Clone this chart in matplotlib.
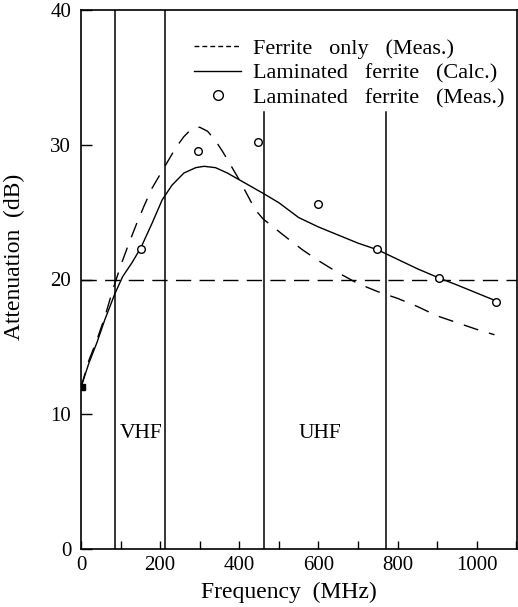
import matplotlib
matplotlib.use("Agg")
import matplotlib.pyplot as plt
from matplotlib.lines import Line2D

# ---- data ----
ferrite_x = [0, 20, 40, 60, 80, 100, 120, 140, 160, 180, 200, 220, 240, 260, 280, 300,
             320, 340, 360, 380, 400, 420, 440, 460, 490, 520, 560, 600, 650, 700, 750,
             800, 850, 900, 950, 1000, 1045]
ferrite_y = [12.0, 14.0, 15.5, 17.2, 19.2, 21.0, 22.6, 24.1, 25.5, 26.8, 27.8, 28.8, 29.8, 30.6, 31.2, 31.3,
             31.0, 30.3, 29.4, 28.4, 27.4, 26.3, 25.2, 24.5, 23.8, 23.1, 22.2, 21.4, 20.5, 19.7, 19.1,
             18.6, 18.0, 17.3, 16.8, 16.3, 15.9]

calc_x = [0, 20, 40, 60, 85, 105, 130, 152, 180, 205, 230, 260, 290, 311, 340, 370, 400,
          430, 460, 500, 550, 600, 650, 700, 750, 800, 850, 906, 950, 1000, 1050]
calc_y = [12.0, 13.8, 15.3, 17.0, 18.9, 20.2, 21.3, 22.4, 24.2, 25.9, 27.0, 27.9, 28.3, 28.4, 28.3, 27.9, 27.4,
          26.9, 26.4, 25.7, 24.6, 23.9, 23.3, 22.7, 22.2, 21.5, 20.8, 20.1, 19.6, 19.0, 18.4]

meas_x = [152, 296, 448, 600, 749, 904, 1050]
meas_y = [22.3, 29.5, 30.2, 25.6, 22.3, 20.1, 18.3]

start_x = [2]
start_y = [12.0]

band_full_x = [85, 213]      # lines spanning the whole height
band_part_x = [463, 770]     # lines ending below the legend
band_part_top = 32.4
ref_level = 20

band_labels = ["VHF", "UHF"]
band_label_x = [152, 603]
band_label_y = 8.6

legend_labels = ["Ferrite   only   (Meas.)", "Laminated   ferrite   (Calc.)", "Laminated   ferrite   (Meas.)"]
x_ticks = [0, 200, 400, 600, 800, 1000]
x_minor = [100, 300, 500, 700, 900, 1100]
y_ticks = [0, 10, 20, 30, 40]

# ---- style ----
plt.rcParams['font.family'] = ['Liberation Serif', 'DejaVu Serif']

fig = plt.figure(figsize=(5.18, 6.07), dpi=100)
ax = fig.add_axes([81/518, 58/607, 436/518, 539/607])

ax.set_xlim(0, 1102)
ax.set_ylim(0, 40)

# band lines
for bx in band_full_x:
    ax.axvline(bx, color='black', lw=1.1)
for bx in band_part_x:
    ax.plot([bx, bx], [0, band_part_top], color='black', lw=1.1)

# reference dashed horizontal line
ax.axhline(ref_level, color='black', lw=1.0, dashes=(11, 6))

# curves
ax.plot(ferrite_x, ferrite_y, color='black', lw=1.0, dashes=(11, 8))
ax.plot(calc_x, calc_y, color='black', lw=1.0)
ax.plot(meas_x, meas_y, 'o', mfc='white', mec='black', mew=1.0, ms=5.5, zorder=5)
ax.plot(start_x, start_y, 's', color='black', ms=5, zorder=5)

for lab, lx in zip(band_labels, band_label_x):
    ax.text(lx, band_label_y, lab, ha='center', va='center', fontsize=15.5)

# legend
handles = [
    Line2D([], [], color='black', lw=1.0, dashes=(3.5, 2.2)),
    Line2D([], [], color='black', lw=1.0),
    Line2D([], [], color='black', marker='o', mfc='white', mec='black', ms=7, lw=0),
]
ax.legend(handles, legend_labels, loc='upper left', bbox_to_anchor=(0.260, 0.948),
          frameon=False, fontsize=16, handlelength=2.1, handletextpad=0.55,
          labelspacing=0.19, borderpad=0, borderaxespad=0)

ax.set_xticks(x_ticks)
ax.set_xticks(x_minor, minor=True)
ax.set_yticks(y_ticks)
ax.tick_params(axis='both', which='both', direction='in', labelsize=15, width=1.0)
ax.tick_params(axis='x', which='both', length=6, pad=5)
ax.tick_params(axis='y', length=8, pad=7)
for s in ax.spines.values():
    s.set_linewidth(1.2)

ax.set_xlabel("Frequency  (MHz)", fontsize=17)
ax.set_ylabel("Attenuation  (dB)", fontsize=17)
ax.xaxis.set_label_coords(0.477, -0.060)
ax.yaxis.set_label_coords(-0.128, 0.542)

fig.savefig("out.png", dpi=100)
